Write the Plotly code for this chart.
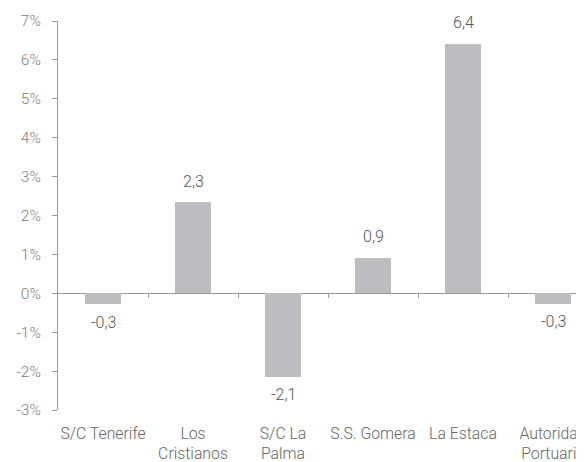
import plotly.graph_objects as go

categories = ["S/C Tenerife", "Los<br>Cristianos", "S/C La<br>Palma", "S.S. Gomera", "La Estaca", "Autoridad<br>Portuaria"]
values = [-0.28, 2.34, -2.14, 0.92, 6.41, -0.27]
value_labels = ["-0,3", "2,3", "-2,1", "0,9", "6,4", "-0,3"]
y_tickvals = [-3, -2, -1, 0, 1, 2, 3, 4, 5, 6, 7]
y_ticktext = ["-3%", "-2%", "-1%", "0%", "1%", "2%", "3%", "4%", "5%", "6%", "7%"]
sep_ticks = [0.5, 1.5, 2.5, 3.5, 4.5]

FONT = "Roboto"
xs = list(range(len(categories)))

fig = go.Figure()
fig.add_trace(go.Bar(x=xs, y=values, width=0.4, marker=dict(color="#BCBDC0", line=dict(width=0)),
                     hoverinfo="skip", showlegend=False))
# invisible trace for separator tick axis
fig.add_trace(go.Scatter(x=[0], y=[0], xaxis="x2", yaxis="y", mode="markers",
                         marker=dict(opacity=0), hoverinfo="skip", showlegend=False))

for x, v, t in zip(xs, values, value_labels):
    fig.add_annotation(x=x, y=v, text=t, showarrow=False, xref="x", yref="y",
                       yshift=21 if v >= 0 else -18,
                       font=dict(family=FONT, size=16, color="#555555", weight=300))

# page body has an 8px margin, so the figure is sized/offset to compensate
fig.update_layout(
    width=576, height=454,
    margin=dict(l=50, r=0, t=13, b=52, autoexpand=False),
    paper_bgcolor="white", plot_bgcolor="white",
    font=dict(family=FONT, size=15.5, color="#707070", weight=300),
    bargap=0,
    xaxis=dict(range=[-0.5, 5.344], tickvals=xs, ticktext=categories, showline=False,
               ticks="", showgrid=False, zeroline=False, tickangle=0, automargin=False,
               ticklabelstandoff=12, ticklabeloverflow="allow",
               tickfont=dict(family=FONT, size=15.8, color="#666666", weight=300)),
    xaxis2=dict(overlaying="x", anchor="free", position=0.3, range=[-0.5, 5.344],
                tickvals=sep_ticks, showticklabels=False, ticks="outside", ticklen=4,
                tickcolor="#999999", tickwidth=1, showline=False, showgrid=False, zeroline=False),
    yaxis=dict(range=[-3, 7], tickvals=y_tickvals, ticktext=y_ticktext, showline=True,
               linecolor="#999999", linewidth=1, ticks="outside", ticklen=5, tickcolor="#999999",
               showgrid=False, zeroline=True, zerolinecolor="#999999", zerolinewidth=1,
               ticklabelstandoff=8, automargin=False,
               tickfont=dict(family=FONT, size=15.5, color="#808080", weight=300)),
)

fig.write_html("out.html")
